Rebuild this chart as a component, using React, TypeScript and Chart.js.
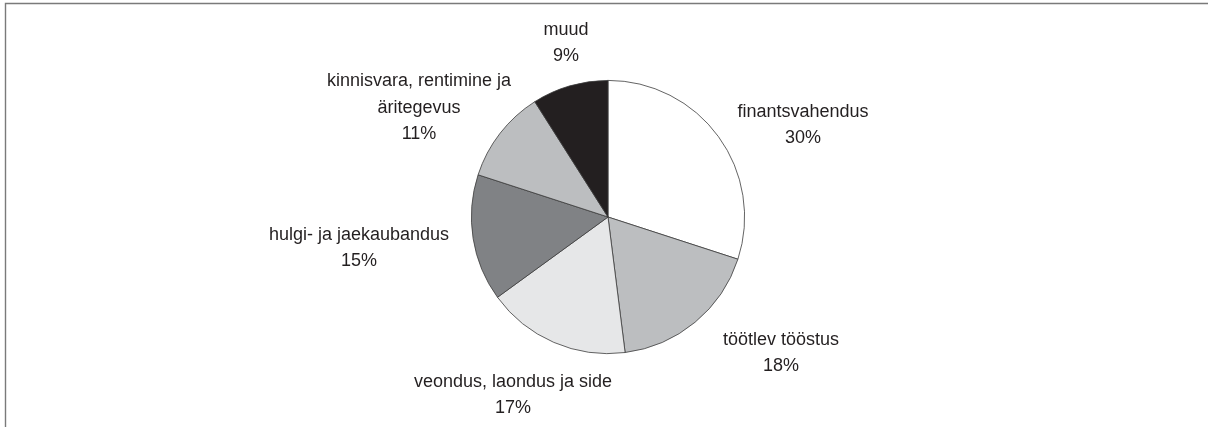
import React, { useEffect, useRef } from "react";
import { Chart, registerables } from "chart.js";

Chart.register(...registerables);

const categories: string[][] = [
  ["finantsvahendus"],
  ["töötlev tööstus"],
  ["veondus, laondus ja side"],
  ["hulgi- ja jaekaubandus"],
  ["kinnisvara, rentimine ja", "äritegevus"],
  ["muud"],
];
const values: number[] = [30, 18, 17, 15, 11, 9];
const sliceColors: string[] = ["#ffffff", "#bcbec0", "#e6e7e8", "#808285", "#bcbec0", "#231f20"];
// label block centre, relative to the pie centre
const labelOffsets: [number, number][] = [
  [195, -92],
  [173, 136],
  [-95, 178],
  [-249, 31],
  [-189, -109],
  [-42, -174],
];

const W = 1208;
const H = 427;

const labelPlugin = {
  id: "labelsAndFrame",
  afterDraw(chart: any) {
    const ctx = chart.ctx as CanvasRenderingContext2D;
    ctx.save();
    // frame
    ctx.strokeStyle = "#7a7a7a";
    ctx.lineWidth = 1.4;
    ctx.beginPath();
    ctx.moveTo(5.5, H);
    ctx.lineTo(5.5, 3.5);
    ctx.lineTo(W, 3.5);
    ctx.stroke();

    const meta = chart.getDatasetMeta(0);
    const total = values.reduce((a, b) => a + b, 0);
    ctx.font = '18px "Liberation Sans", Arial, sans-serif';
    ctx.fillStyle = "#231f20";
    ctx.textAlign = "center";
    ctx.textBaseline = "middle";
    const lh = 26.5;
    meta.data.forEach((arc: any, i: number) => {
      const cx = arc.x + labelOffsets[i][0];
      const cy = arc.y + labelOffsets[i][1];
      const pct = Math.round((values[i] / total) * 100) + "%";
      const lines = [...categories[i], pct];
      const n = lines.length;
      lines.forEach((t, j) => {
        ctx.fillText(t, cx, cy + (j - (n - 1) / 2) * lh);
      });
    });
    ctx.restore();
  },
};

export default function App() {
  const ref = useRef<HTMLCanvasElement | null>(null);
  useEffect(() => {
    if (!ref.current) return;
    const chart = new Chart(ref.current, {
      type: "pie",
      data: {
        labels: categories,
        datasets: [
          {
            data: values,
            backgroundColor: sliceColors,
            borderColor: "#3c3c3c",
            borderWidth: 0.8,
          },
        ],
      },
      options: {
        responsive: false,
        animation: false,
        devicePixelRatio: 1,
        layout: { padding: { top: 80, bottom: 73, left: 8, right: 0 } },
        plugins: {
          legend: { display: false },
          tooltip: { enabled: false },
        },
      },
      plugins: [labelPlugin],
    });
    return () => chart.destroy();
  }, []);
  return (
    <div style={{ position: "fixed", left: 0, top: 0, width: W, height: H, background: "#fff" }}>
      <canvas ref={ref} width={W} height={H} style={{ width: W, height: H, display: "block" }} />
    </div>
  );
}
